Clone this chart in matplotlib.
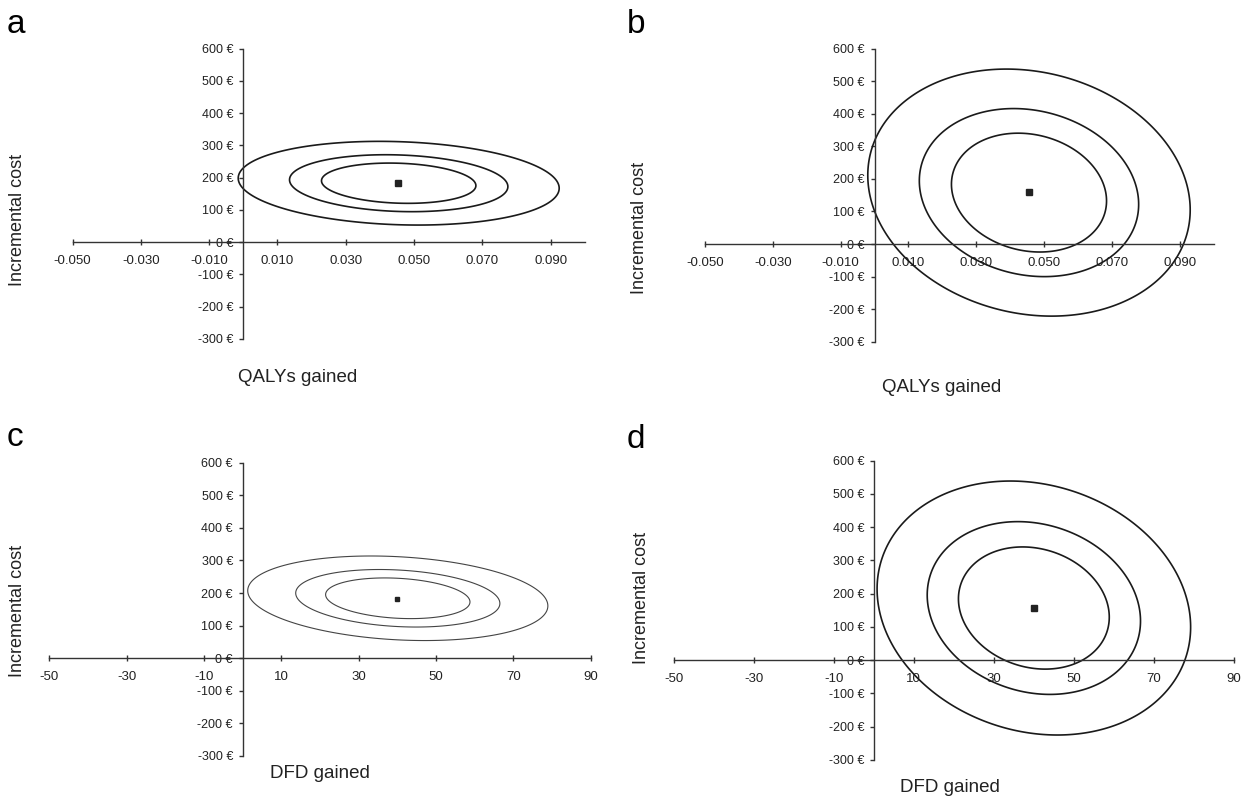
import numpy as np
import matplotlib
matplotlib.use("Agg")
import matplotlib.pyplot as plt

plt.rcParams['font.family'] = ['Liberation Sans', 'DejaVu Sans']

W, H = 1247, 797

# confidence levels of the ellipses
levels_p = [0.50, 0.75, 0.95]

# bivariate normal summary for each panel: mean x, mean y, sd x, sd y, correlation
mean_x = [0.0455, 0.0455, 40.1, 40.0]
mean_y = [183, 158, 184, 157]
sd_x = [0.0192, 0.0194, 15.85, 16.0]
sd_y = [53, 155, 53, 156]
rho = [-0.12, -0.14, -0.18, -0.15]

# point estimates
point_x = [0.0452, 0.0455, 40.0, 40.0]
point_y = [185, 160, 181, 156]

qaly_ticks = [-0.05, -0.03, -0.01, 0.01, 0.03, 0.05, 0.07, 0.09]
qaly_labels = ['-0.050', '-0.030', '-0.010', '0.010', '0.030', '0.050', '0.070', '0.090']
dfd_ticks = [-50, -30, -10, 10, 30, 50, 70, 90]
dfd_labels = ['-50', '-30', '-10', '10', '30', '50', '70', '90']
cost_ticks = [-300, -200, -100, 0, 100, 200, 300, 400, 500, 600]
cost_labels = [f'{v} €' for v in cost_ticks]

panels = ['a', 'b', 'c', 'd']
xlabels = ['QALYs gained', 'QALYs gained', 'DFD gained', 'DFD gained']

# axes boxes in pixels: x_left, x_right, y_top(600), y_bottom(-300)
boxes = [(72.6, 584.8, 48.7, 339), (704.8, 1214, 48.7, 341.7),
         (49.3, 590.8, 462.7, 756), (673.6, 1234, 460.7, 760)]
xlims = [(-0.05, 0.10), (-0.05, 0.10), (-50, 90), (-50, 90)]

# label positions (pixels)
letter_pos = [(7, 33), (627, 33), (7, 446), (627, 448)]
ylab_pos = [(18, 220), (640, 228), (18, 611), (642, 598)]
xlab_pos = [(298, 378), (942, 387), (320, 773), (950, 787)]

marker_sizes = [4.5, 5, 3.5, 4.5]

fig = plt.figure(figsize=(W / 100, H / 100), dpi=100)

for i in range(4):
    x0, x1, yt, yb = boxes[i]
    ax = fig.add_axes([x0 / W, 1 - yb / H, (x1 - x0) / W, (yb - yt) / H])
    ax.set_xlim(*xlims[i])
    ax.set_ylim(-300, 600)

    # ellipses as contours of the bivariate normal
    gx = np.linspace(xlims[i][0], xlims[i][1], 700)
    gy = np.linspace(-300, 600, 700)
    X, Y = np.meshgrid(gx, gy)
    zx = (X - mean_x[i]) / sd_x[i]
    zy = (Y - mean_y[i]) / sd_y[i]
    d2 = (zx ** 2 - 2 * rho[i] * zx * zy + zy ** 2) / (1 - rho[i] ** 2)
    lev = [-2 * np.log(1 - p) for p in levels_p]
    if i == 2:
        ax.contour(X, Y, d2, levels=lev, colors='#444444', linewidths=0.8)
    else:
        ax.contour(X, Y, d2, levels=lev, colors='#1a1a1a', linewidths=1.2)

    ax.plot(point_x[i], point_y[i], 's', color='#222222',
            markersize=marker_sizes[i], zorder=5)

    for s in ['top', 'right']:
        ax.spines[s].set_visible(False)
    ax.spines['left'].set_position(('data', 0))
    ax.spines['bottom'].set_position(('data', 0))
    for s in ['left', 'bottom']:
        ax.spines[s].set_color('#333333')
        ax.spines[s].set_linewidth(1.0)

    if i < 2:
        ax.set_xticks(qaly_ticks, qaly_labels)
    else:
        ax.set_xticks(dfd_ticks, dfd_labels)
    ax.set_yticks(cost_ticks, cost_labels)
    ax.tick_params(axis='x', direction='inout', length=4, width=1, color='#333333',
                   labelsize=9.5, pad=7.5, labelcolor='#222222')
    ax.tick_params(axis='y', direction='out', length=3, width=1, color='#333333',
                   labelsize=9, pad=4, labelcolor='#222222')
    ax.patch.set_alpha(0)

    fig.text(letter_pos[i][0] / W, 1 - letter_pos[i][1] / H, panels[i],
             fontsize=24, ha='left', va='baseline')
    fig.text(ylab_pos[i][0] / W, 1 - ylab_pos[i][1] / H, 'Incremental cost',
             rotation=90, fontsize=13, ha='center', va='center', color='#222222')
    fig.text(xlab_pos[i][0] / W, 1 - xlab_pos[i][1] / H, xlabels[i],
             fontsize=13.5, ha='center', va='center', color='#222222')

fig.savefig('out.png', dpi=100)
